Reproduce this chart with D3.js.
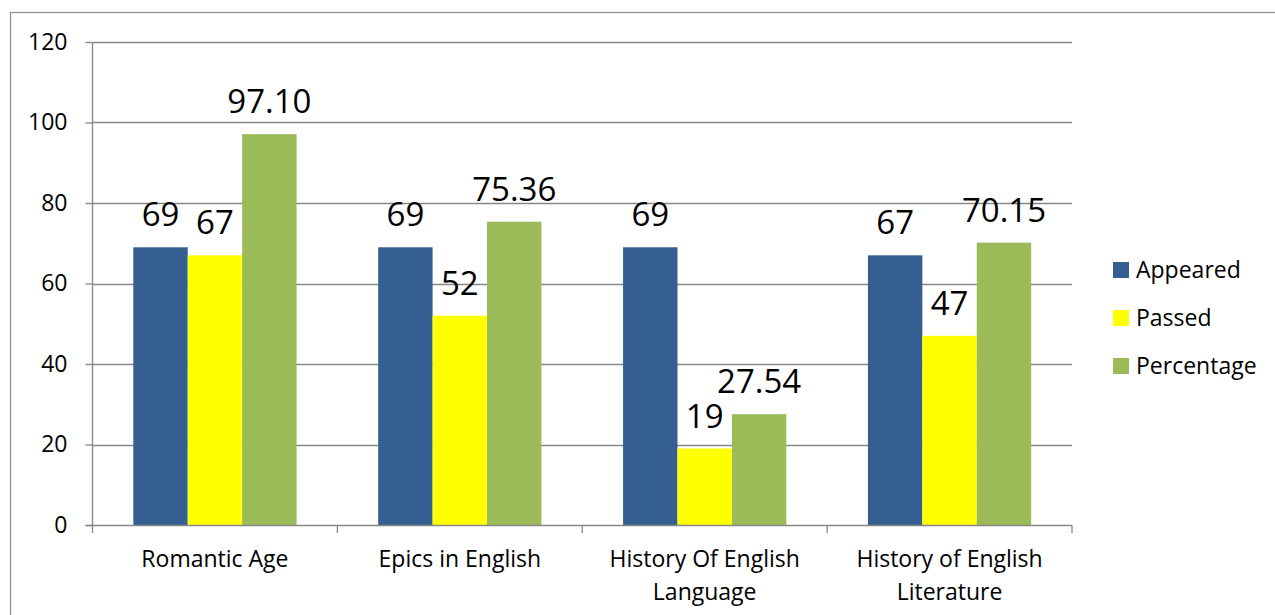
<!DOCTYPE html>
<html>
<head>
<meta charset="utf-8">
<script src="https://cdn.jsdelivr.net/npm/d3@7/dist/d3.min.js"></script>
<style>
  html, body { margin: 0; padding: 0; background: #fff; }
  svg { display: block; font-family: "Open Sans", Lato, sans-serif; }
</style>
</head>
<body>
<svg id="chart" width="1275" height="615"></svg>
<script>
// Exam results per paper
const categories = [
  ["Romantic Age"],
  ["Epics in English"],
  ["History Of English", "Language"],
  ["History of English", "Literature"]
];
const seriesNames = ["Appeared", "Passed", "Percentage"];
const appeared   = [69, 69, 69, 67];
const passed     = [67, 52, 19, 47];
const percentage = [97.10, 75.36, 27.54, 70.15];
const yTicks = [0, 20, 40, 60, 80, 100, 120];

const colors = ["#355f91", "#ffff00", "#9bbb59"];
const seriesValues = [appeared, passed, percentage];
const labelFormat = [d3.format("d"), d3.format("d"), d3.format(".2f")];
const fontFamily = "'Open Sans', Lato, sans-serif";

const svg = d3.select("#chart");
const plot = { left: 92.5, right: 1072, top: 42, bottom: 525 };

// Outer frame
svg.append("rect")
  .attr("x", 10.5).attr("y", 12.5)
  .attr("width", 1300).attr("height", 700)
  .attr("fill", "none").attr("stroke", "#8c8c8c").attr("stroke-width", 1.2);

const catKeys = categories.map((c, i) => i);
const x0 = d3.scaleBand().domain(catKeys).range([plot.left, plot.right]).padding(0);
const x1 = d3.scaleBand().domain(seriesNames).range([0, x0.bandwidth()])
  .paddingInner(0).paddingOuter(0.75);
const y = d3.scaleLinear().domain([0, 120]).range([plot.bottom, plot.top]);

// Gridlines
svg.append("g")
  .selectAll("line")
  .data(yTicks.filter(t => t > 0))
  .join("line")
  .attr("x1", plot.left).attr("x2", plot.right)
  .attr("y1", d => Math.round(y(d)) + 0.5).attr("y2", d => Math.round(y(d)) + 0.5)
  .attr("stroke", "#878787").attr("stroke-width", 1.3);

// Bars
const groups = svg.append("g")
  .selectAll("g")
  .data(catKeys)
  .join("g")
  .attr("transform", i => `translate(${x0(i)},0)`);

groups.selectAll("rect")
  .data(i => seriesNames.map((s, k) => ({ s, k, v: seriesValues[k][i] })))
  .join("rect")
  .attr("x", d => x1(d.s))
  .attr("width", x1.bandwidth())
  .attr("y", d => y(d.v))
  .attr("height", d => y(0) - y(d.v))
  .attr("fill", d => colors[d.k]);

// Value labels
groups.selectAll("text")
  .data(i => seriesNames.map((s, k) => ({ s, k, v: seriesValues[k][i] })))
  .join("text")
  .attr("x", d => x1(d.s) + x1.bandwidth() / 2)
  .attr("y", d => y(d.v) - 21)
  .attr("text-anchor", "middle")
  .attr("font-size", 33)
  .attr("fill", "#000")
  .text(d => labelFormat[d.k](d.v));

// Y axis
const yAxis = d3.axisLeft(y).tickValues(yTicks).tickSize(7).tickPadding(18);
const gy = svg.append("g")
  .attr("transform", `translate(${plot.left},0)`)
  .call(yAxis);
gy.select(".domain").attr("stroke", "#878787").attr("stroke-width", 1.3)
  .attr("d", `M0,${plot.bottom}V${plot.top}`);
gy.selectAll(".tick line").attr("stroke", "#878787").attr("stroke-width", 1.3);
gy.selectAll(".tick text").attr("font-size", 23).attr("fill", "#000")
  .attr("font-family", fontFamily);

// X axis baseline and boundary ticks
const gx = svg.append("g");
gx.append("line")
  .attr("x1", plot.left - 7).attr("x2", plot.right)
  .attr("y1", plot.bottom + 0.5).attr("y2", plot.bottom + 0.5)
  .attr("stroke", "#878787").attr("stroke-width", 1.3);
const bounds = catKeys.map(i => x0(i)).concat([x0(catKeys.length - 1) + x0.bandwidth()]);
gx.selectAll("line.tick")
  .data(bounds)
  .join("line")
  .attr("class", "tick")
  .attr("x1", d => d).attr("x2", d => d)
  .attr("y1", plot.bottom).attr("y2", plot.bottom + 8)
  .attr("stroke", "#878787").attr("stroke-width", 1.3);

// Category labels
const catLabels = gx.selectAll("text.cat")
  .data(catKeys)
  .join("text")
  .attr("class", "cat")
  .attr("x", i => x0(i) + x0.bandwidth() / 2)
  .attr("y", 567)
  .attr("text-anchor", "middle")
  .attr("font-size", 23)
  .attr("fill", "#000");
catLabels.selectAll("tspan")
  .data(i => categories[i])
  .join("tspan")
  .attr("x", function () { return this.parentNode.getAttribute("x"); })
  .attr("dy", (d, j) => j === 0 ? 0 : 33)
  .text(d => d);

// Legend
const legend = svg.append("g").attr("transform", "translate(1113,0)");
const rows = legend.selectAll("g")
  .data(seriesNames)
  .join("g")
  .attr("transform", (d, k) => `translate(0,${270 + k * 48})`);
rows.append("rect")
  .attr("x", 0).attr("y", -8).attr("width", 16).attr("height", 16)
  .attr("fill", (d, k) => colors[k]);
rows.append("text")
  .attr("x", 23).attr("y", 8)
  .attr("font-size", 23)
  .attr("fill", "#000")
  .text(d => d);
</script>
</body>
</html>
